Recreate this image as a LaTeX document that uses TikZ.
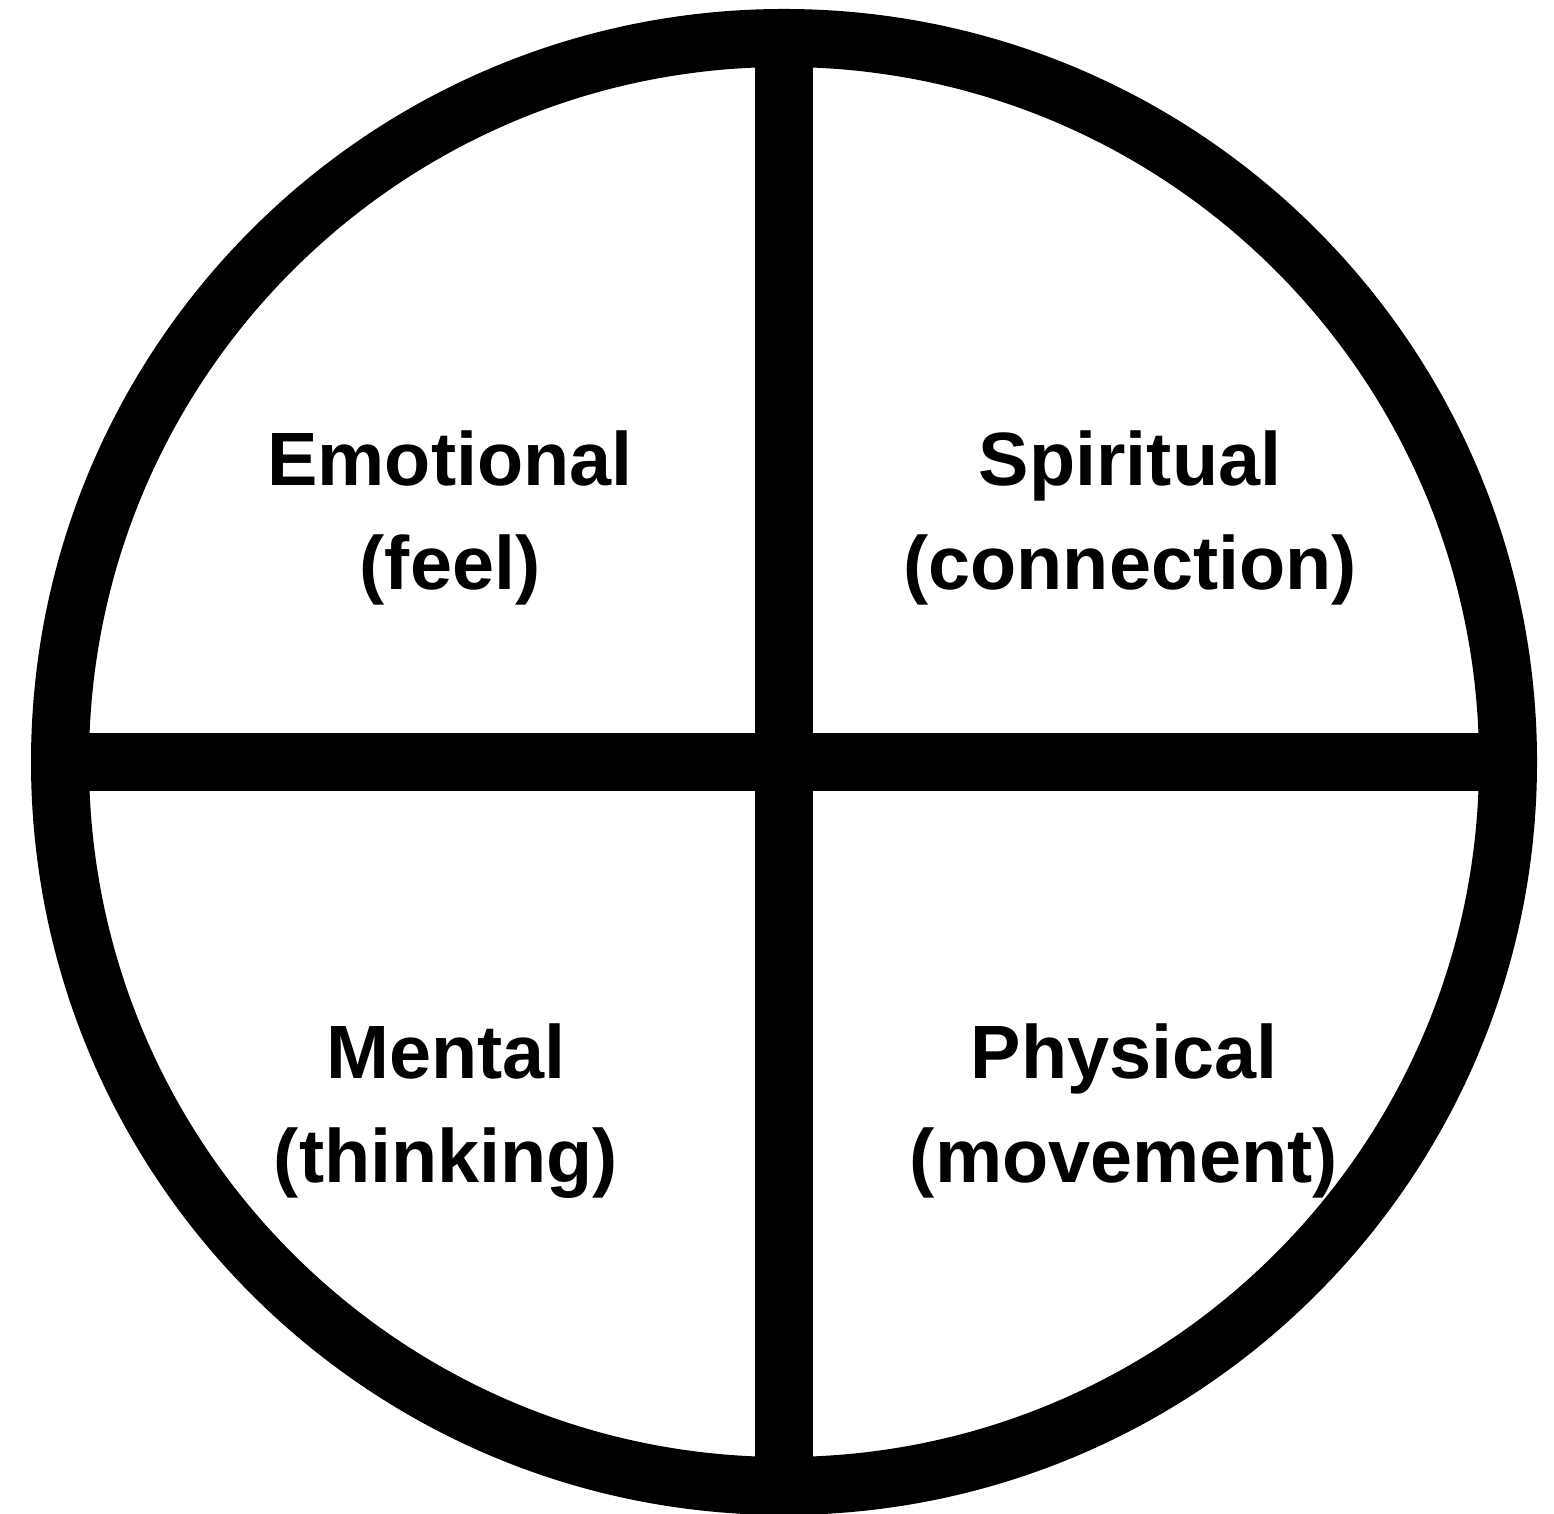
\documentclass[tikz,border=0pt]{standalone}
\usepackage{fontspec}
\setmainfont{Liberation Sans}
\usepackage{tikz}
\usetikzlibrary{positioning}
\usepackage{xcolor}

\begin{document}
\begin{tikzpicture}[x=1cm, y=1cm,
  ring/.style={draw=black, line width=0.58cm},
  quarter/.style={align=center, font=\fontsize{21.5}{29.5}\selectfont\bfseries}]

  \useasboundingbox (0,0) rectangle (15.54,15.13);

  % Circle
  \coordinate (centre) at (7.84,7.51);
  \draw[ring] (centre) circle (7.24);
  \coordinate (top) at ([yshift=7.24cm]centre);
  \coordinate (bottom) at ([yshift=-7.24cm]centre);
  \coordinate (left) at ([xshift=-7.24cm]centre);
  \coordinate (right) at ([xshift=7.24cm]centre);

  % Lines
  \draw[ring] (top) -- (bottom);
  \draw[ring] (left) -- (right);

  % Nodes
  \node[quarter] (emotional) at (4.50,9.95) {Emotional\\(feel)};
  \node[quarter] (spiritual) at (11.30,9.95) {Spiritual\\(connection)};
  \node[quarter] (mental) at (4.46,4.02) {Mental\\(thinking)};
  \node[quarter] (physical) at (11.24,4.02) {Physical\\(movement)};

\end{tikzpicture}
\end{document}
